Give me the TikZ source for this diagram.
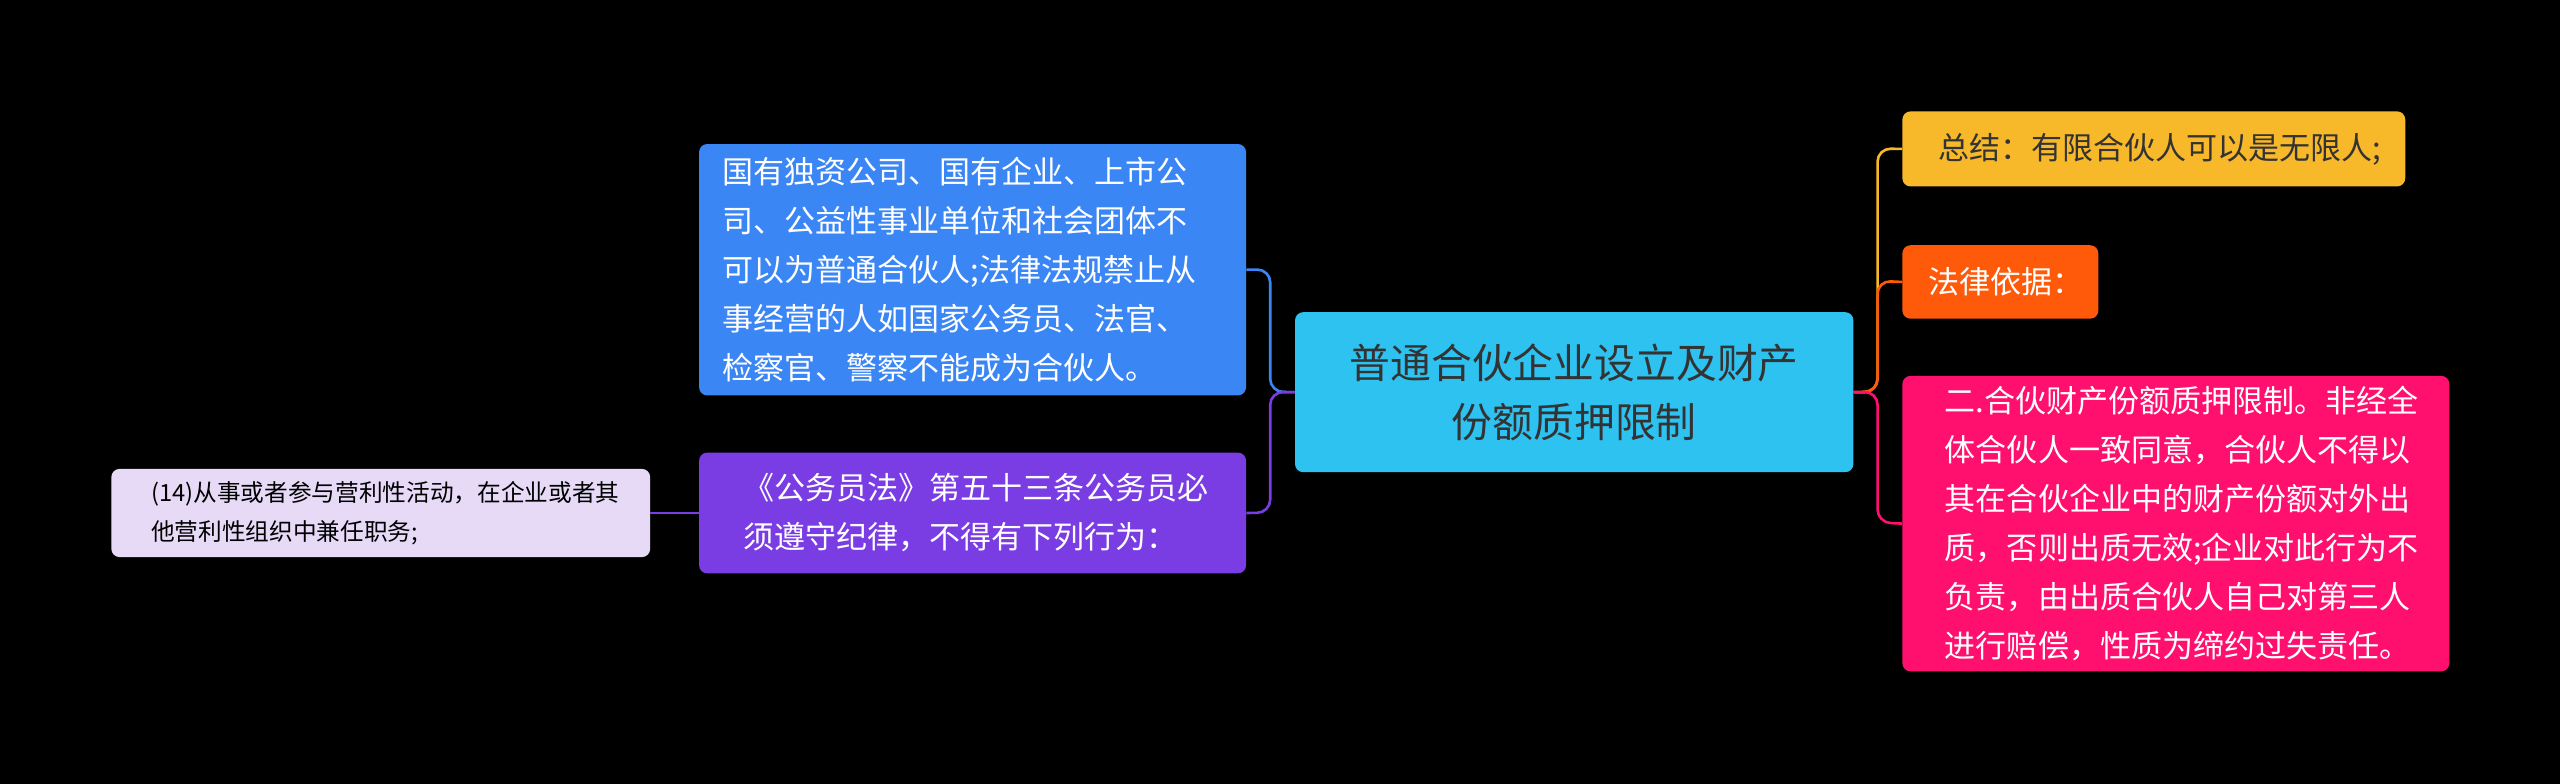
\documentclass[tikz,border=0pt]{standalone}
\usepackage{fontspec}
\setmainfont{Noto Sans CJK SC}
\begin{document}
\begin{tikzpicture}[x=1pt,y=-1pt,
 box/.style={rounded corners=5pt,anchor=north west,inner sep=0pt,align=left,font=\fontsize{19}{30}\selectfont,text=white},
 ln/.style={line width=1.6pt,rounded corners=8pt}]
\fill[black] (0,0) rectangle (1568,480);
\useasboundingbox (0,0) rectangle (1568,480);
\definecolor{cC}{HTML}{2EC2F0}\definecolor{cB}{HTML}{3B86F5}\definecolor{cP}{HTML}{7A3DE3}
\definecolor{cL}{HTML}{E6DAF7}\definecolor{cY}{HTML}{F7B82A}\definecolor{cO}{HTML}{FF5A0A}\definecolor{cK}{HTML}{FF0F6E}
\node[box,fill=cC,minimum width=342,minimum height=98,align=center,text=black!80,font=\fontsize{25}{36}\selectfont] (c) at (793,191) {普通合伙企业设立及财产\\份额质押限制};
\node[box,fill=cB,minimum width=335,minimum height=154,text width=319] (b) at (428,88) {\hspace*{0pt}\ 国有独资公司、国有企业、上市公\\\ 司、公益性事业单位和社会团体不\\\ 可以为普通合伙人;法律法规禁止从\\\ 事经营的人如国家公务员、法官、\\\ 检察官、警察不能成为合伙人。};
\node[box,fill=cP,minimum width=335,minimum height=74] (p) at (428,277) {\ 《公务员法》第五十三条公务员必\\\ 须遵守纪律，不得有下列行为：};
\node[box,fill=cL,minimum width=330,minimum height=54,text=black,font=\fontsize{14.5}{24}\selectfont] (l) at (68,287) {\ \,(14)从事或者参与营利性活动，在企业或者其\\\ \,他营利性组织中兼任职务;};
\node[box,fill=cY,minimum width=308,minimum height=46,text=black!80] (y) at (1165,68) {\ \,总结：有限合伙人可以是无限人;};
\node[box,fill=cO,minimum width=120,minimum height=45] (o) at (1165,150) {\ \,法律依据：};
\node[box,fill=cK,minimum width=335,minimum height=181] (k) at (1165,230) {\ \,二.合伙财产份额质押限制。非经全\\\ \,体合伙人一致同意，合伙人不得以\\\ \,其在合伙企业中的财产份额对外出\\\ \,质，否则出质无效;企业对此行为不\\\ \,负责，由出质合伙人自己对第三人\\\ \,进行赔偿，性质为缔约过失责任。};
\draw[ln,cB] (c.west) -- (778,240) -- (778,165) -- (b.east);
\draw[ln,cP] (c.west) -- (778,240) -- (778,314) -- (p.east);
\draw[ln,cP] (p.west) -- (l.east);
\draw[ln,cY] (c.east) -- (1150,240) -- (1150,91) -- (y.west);
\draw[ln,cO] (c.east) -- (1150,240) -- (1150,172) -- (o.west);
\draw[ln,cK] (c.east) -- (1150,240) -- (1150,320) -- (k.west);
\end{tikzpicture}
\end{document}
